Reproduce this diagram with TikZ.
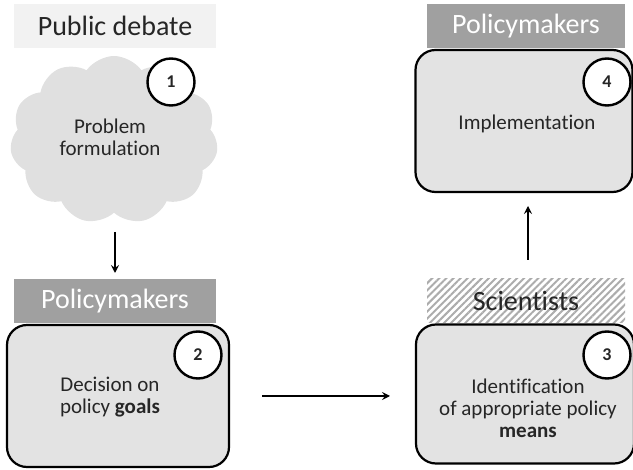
\documentclass[tikz,border=0pt]{standalone}
\usepackage{fontspec}
\setmainfont{Carlito}[Ligatures=NoCommon]
\usetikzlibrary{shapes.symbols,arrows.meta,patterns.meta}
\definecolor{txt}{HTML}{262626}
\definecolor{boxfill}{HTML}{E3E3E3}
\definecolor{cloudfill}{HTML}{E0E0E0}
\definecolor{pmfill}{HTML}{A0A0A0}
\definecolor{pdfill}{HTML}{F2F2F2}
\tikzset{
  stagebox/.style={draw=black, line width=2.2pt, fill=boxfill, rounded corners=20pt, inner sep=0pt},
  numcirc/.style={circle, draw=black, line width=2.4pt, fill=white, minimum size=47pt, inner sep=0pt, font=\fontsize{18}{20}\selectfont\bfseries, text=txt},
  label/.style={inner sep=0pt, font=\fontsize{28}{30}\selectfont},
  body/.style={align=center, font=\fontsize{21}{22}\selectfont, text=txt},
  flow/.style={line width=1.4pt, -{Stealth[length=8pt,width=8pt,inset=3pt]}},
}
\begin{document}
\begin{tikzpicture}[x=1pt,y=-1pt]
\useasboundingbox (0,0) rectangle (633,470);
% top-left: public debate
\node[label, fill=pdfill, text=txt, minimum width=202pt, minimum height=44pt] (pd) at (115,26) {Public debate};
\node[cloud, cloud puffs=11, cloud puff arc=110, fill=cloudfill, minimum width=208pt, minimum height=168pt, inner sep=0pt] (cl) at (114,140) {};
\node[body] (t1) at (110,137) {Problem\\formulation};
\node[numcirc] (c1) at (171,82) {1};
% left bottom
\node[label, fill=pmfill, text=white, minimum width=202pt, minimum height=44pt] (pm1) at (115,301) {Policymakers};
\node[stagebox, minimum width=222pt, minimum height=142pt] (b2) at (118,396) {};
\node[body] (t2) at (110,397) {Decision on\\policy \textbf{goals}};
\node[numcirc] (c2) at (198,355) {2};
% right bottom
\node[label, pattern={Lines[angle=45,distance=5pt,line width=2pt]}, pattern color=gray!65, text=txt, minimum width=198pt, minimum height=44pt] (sc) at (526,301) {Scientists};
\node[stagebox, minimum width=218pt, minimum height=139pt] (b3) at (525,394) {};
\node[body, align=center] (t3) at (528,408) {Identification\\of appropriate policy\\\textbf{means}};
\node[numcirc] (c3) at (607,355) {3};
% right top
\node[label, fill=pmfill, text=white, minimum width=198pt, minimum height=44pt] (pm2) at (526,26) {Policymakers};
\node[stagebox, minimum width=217pt, minimum height=142pt] (b4) at (524,121) {};
\node[body] (t4) at (527,124) {Implementation};
\node[numcirc] (c4) at (607,82) {4};
% arrows
\coordinate (a1s) at (115,232);
\coordinate (a1e) at (115,273);
\coordinate (a2s) at (262,396);
\coordinate (a2e) at (390,396);
\coordinate (a3s) at (528,260);
\coordinate (a3e) at (528,206);
\draw[flow] (a1s) -- (a1e);
\draw[flow] (a2s) -- (a2e);
\draw[flow] (a3s) -- (a3e);
\end{tikzpicture}
\end{document}
